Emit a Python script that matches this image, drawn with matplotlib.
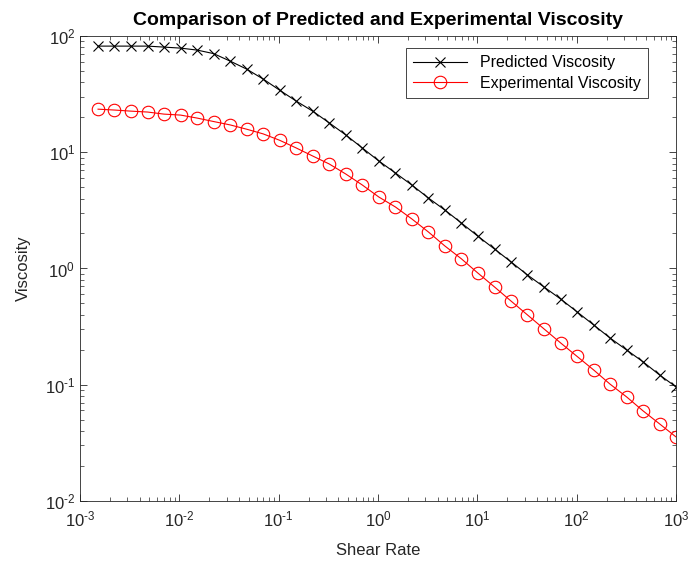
import matplotlib
matplotlib.use("Agg")
import matplotlib.pyplot as plt
from matplotlib.ticker import FixedLocator, FuncFormatter, NullFormatter
import numpy as np

plt.rcParams["font.family"] = ["Liberation Sans", "DejaVu Sans"]
plt.rcParams["mathtext.fontset"] = "custom"
plt.rcParams["mathtext.rm"] = "Liberation Sans"
plt.rcParams["mathtext.it"] = "Liberation Sans:italic"
plt.rcParams["mathtext.bf"] = "Liberation Sans:bold"
plt.rcParams["axes.unicode_minus"] = False

shear_rate = [0.00152, 0.00222, 0.00326, 0.00479, 0.00702, 0.0103, 0.0151, 0.0221,
              0.0325, 0.0476, 0.0698, 0.102, 0.150, 0.220, 0.323, 0.474,
              0.695, 1.02, 1.50, 2.19, 3.22, 4.72, 6.92, 10.1,
              14.9, 21.8, 32.0, 46.9, 68.8, 101, 148, 217,
              318, 467, 685, 1000]

predicted = [82.0, 82.0, 82.0, 82.0, 80.4, 78.8, 75.8, 70.7,
             60.9, 52.0, 42.7, 34.3, 27.6, 22.6, 17.9, 14.1,
             10.9, 8.41, 6.63, 5.23, 4.04, 3.18, 2.46, 1.90,
             1.47, 1.14, 0.879, 0.693, 0.547, 0.423, 0.327, 0.252,
             0.199, 0.157, 0.121, 0.0957]

experimental = [23.5, 23.1, 22.6, 22.2, 21.3, 20.9, 19.7, 18.4,
                17.2, 15.8, 14.4, 12.7, 10.9, 9.29, 7.93, 6.50,
                5.23, 4.12, 3.38, 2.67, 2.06, 1.56, 1.21, 0.915,
                0.693, 0.525, 0.398, 0.302, 0.229, 0.175, 0.134, 0.101,
                0.0785, 0.0594, 0.0459, 0.0355]

x_exps = [-3, -2, -1, 0, 1, 2, 3]
y_exps = [-2, -1, 0, 1, 2]

axc = "#262626"


def pow_label(v, pos):
    e = int(round(np.log10(v)))
    return r"$10^{\text{%d}}$" % e


fig = plt.figure(figsize=(6.89, 5.64), dpi=100)
ax = fig.add_axes([0.1161, 0.112, 0.8650, 0.824])

ax.plot(shear_rate, predicted, color="black", marker="x", markersize=6.5,
        markeredgewidth=0.8, linewidth=0.8, label="Predicted Viscosity")
ax.plot(shear_rate, experimental, color="red", marker="o", markersize=9,
        markerfacecolor="none", markeredgewidth=0.8, linewidth=0.8,
        label="Experimental Viscosity")

ax.set_xscale("log")
ax.set_yscale("log")
ax.set_xlim(1e-3, 1e3)
ax.set_ylim(1e-2, 1e2)

ax.xaxis.set_major_locator(FixedLocator([10.0 ** e for e in x_exps]))
ax.yaxis.set_major_locator(FixedLocator([10.0 ** e for e in y_exps]))
ax.xaxis.set_major_formatter(FuncFormatter(pow_label))
ax.yaxis.set_major_formatter(FuncFormatter(pow_label))
ax.xaxis.set_minor_formatter(NullFormatter())
ax.yaxis.set_minor_formatter(NullFormatter())

ax.tick_params(which="both", direction="in", top=True, right=True,
               colors=axc, labelsize=12)
ax.tick_params(which="major", length=5, width=0.6)
ax.tick_params(which="minor", length=3, width=0.5)
ax.tick_params(axis="x", pad=6)
for s in ax.spines.values():
    s.set_color(axc)
    s.set_linewidth(0.6)

ax.set_xlabel("Shear Rate", fontsize=12, color=axc, labelpad=10)
ax.set_ylabel("Viscosity", fontsize=12, color=axc, labelpad=10)
ax.set_title("Comparison of Predicted and Experimental Viscosity",
             fontsize=14, fontweight="bold", pad=8)

leg = ax.legend(loc="upper right", bbox_to_anchor=(0.953, 0.974), fontsize=11.5,
                fancybox=False, framealpha=1, edgecolor=axc, borderpad=0.45,
                borderaxespad=0, handlelength=3.4, labelspacing=0.35)
leg.get_frame().set_linewidth(0.6)

fig.savefig("out.png", dpi=100)
